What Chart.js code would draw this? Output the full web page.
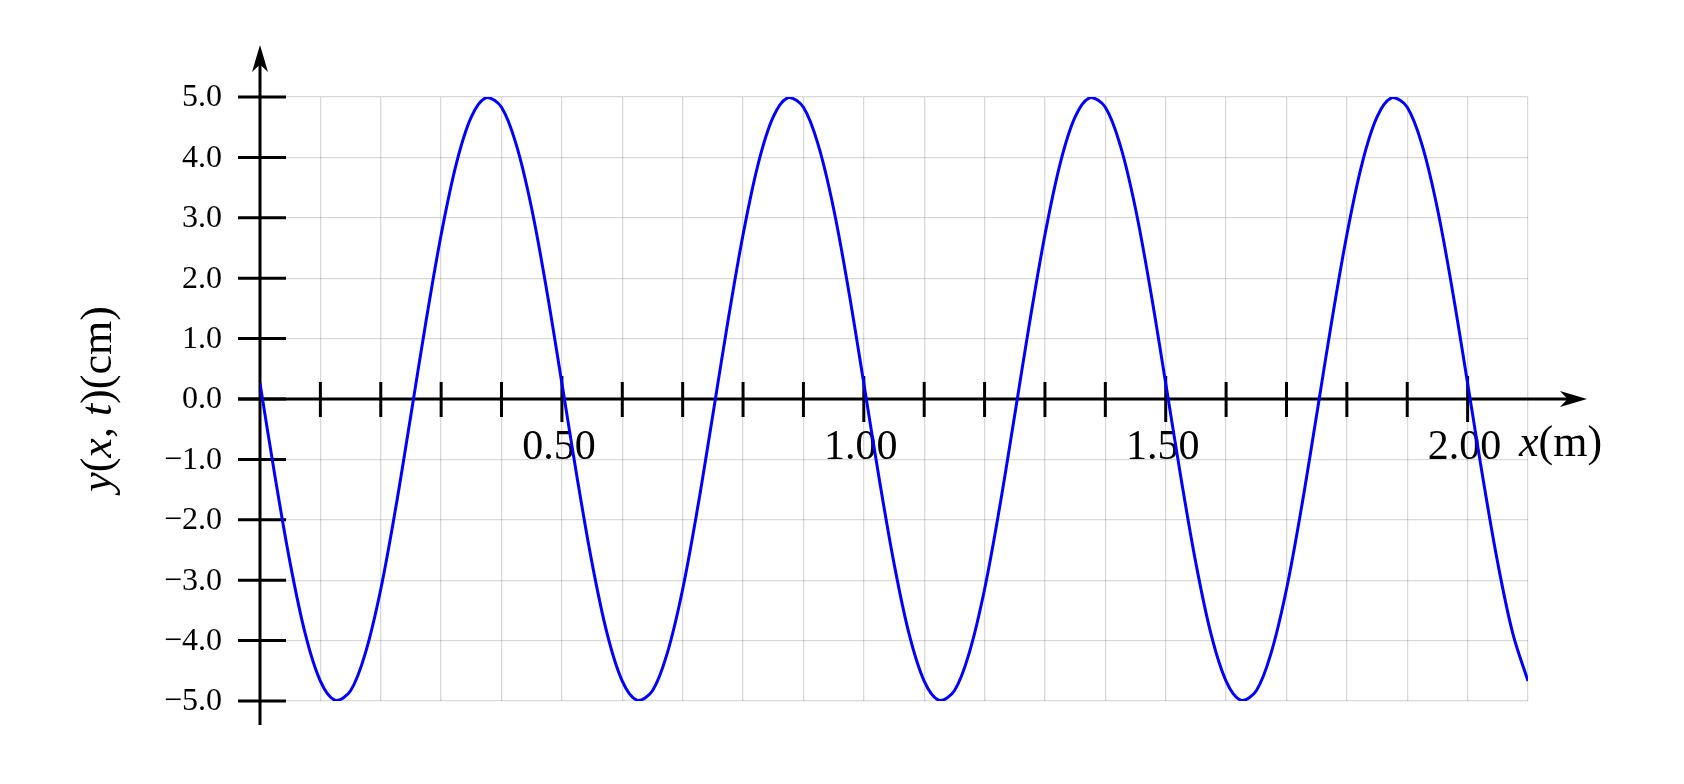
<!DOCTYPE html>
<html>
<head>
<meta charset="utf-8">
<script src="https://cdn.jsdelivr.net/npm/chart.js@4"></script>
<style>
  html, body { margin: 0; padding: 0; background: #fff; }
  #wrap { width: 1684px; height: 784px; }
</style>
</head>
<body>
<div id="wrap"><canvas id="waveChart" width="1684" height="784"></canvas></div>
<script>
// position along the string (m)
const xs = [
  0.000, 0.025, 0.050, 0.075, 0.100, 0.125, 0.150, 0.175, 0.200, 0.225,
  0.250, 0.275, 0.300, 0.325, 0.350, 0.375, 0.400, 0.425, 0.450, 0.475,
  0.500, 0.525, 0.550, 0.575, 0.600, 0.625, 0.650, 0.675, 0.700, 0.725,
  0.750, 0.775, 0.800, 0.825, 0.850, 0.875, 0.900, 0.925, 0.950, 0.975,
  1.000, 1.025, 1.050, 1.075, 1.100, 1.125, 1.150, 1.175, 1.200, 1.225,
  1.250, 1.275, 1.300, 1.325, 1.350, 1.375, 1.400, 1.425, 1.450, 1.475,
  1.500, 1.525, 1.550, 1.575, 1.600, 1.625, 1.650, 1.675, 1.700, 1.725,
  1.750, 1.775, 1.800, 1.825, 1.850, 1.875, 1.900, 1.925, 1.950, 1.975,
  2.000, 2.025, 2.050, 2.075, 2.100
];

// displacement y(x,t) (cm)
const ys = [
  0.26, -1.29, -2.72, -3.89, -4.67, -4.99, -4.83, -4.19, -3.15, -1.79,
  -0.26, 1.29, 2.72, 3.89, 4.67, 4.99, 4.83, 4.19, 3.15, 1.79,
  0.26, -1.29, -2.72, -3.89, -4.67, -4.99, -4.83, -4.19, -3.15, -1.79,
  -0.26, 1.29, 2.72, 3.89, 4.67, 4.99, 4.83, 4.19, 3.15, 1.79,
  0.26, -1.29, -2.72, -3.89, -4.67, -4.99, -4.83, -4.19, -3.15, -1.79,
  -0.26, 1.29, 2.72, 3.89, 4.67, 4.99, 4.83, 4.19, 3.15, 1.79,
  0.26, -1.29, -2.72, -3.89, -4.67, -4.99, -4.83, -4.19, -3.15, -1.79,
  -0.26, 1.29, 2.72, 3.89, 4.67, 4.99, 4.83, 4.19, 3.15, 1.79,
  0.26, -1.29, -2.72, -3.89, -4.67
];

const yTicks = [-5, -4, -3, -2, -1, 0, 1, 2, 3, 4, 5];
const xTicks = [0.1, 0.2, 0.3, 0.4, 0.5, 0.6, 0.7, 0.8, 0.9, 1.0,
                1.1, 1.2, 1.3, 1.4, 1.5, 1.6, 1.7, 1.8, 1.9, 2.0];
const xLabelTicks = [0.5, 1.0, 1.5, 2.0];

const SERIF = '"Liberation Serif", "DejaVu Serif", serif';

function arrowHead(ctx, tipX, tipY, dirX, dirY, len, half){
  // stealth style arrow, pointing along (dirX, dirY)
  const px = -dirY, py = dirX;
  const bx = tipX - dirX * len, by = tipY - dirY * len;
  const nx = tipX - dirX * len * 0.72, ny = tipY - dirY * len * 0.72;
  ctx.beginPath();
  ctx.moveTo(tipX, tipY);
  ctx.lineTo(bx + px * half, by + py * half);
  ctx.lineTo(nx, ny);
  ctx.lineTo(bx - px * half, by - py * half);
  ctx.closePath();
  ctx.fill();
}

// draws text made of [str, italic] pieces starting at x
function drawPieces(ctx, pieces, x, y, size){
  let cx = x;
  for (const [s, it] of pieces){
    ctx.font = (it ? "italic " : "") + size + "px " + SERIF;
    ctx.fillText(s, cx, y);
    cx += ctx.measureText(s).width;
  }
}
function piecesWidth(ctx, pieces, size){
  let w = 0;
  for (const [s, it] of pieces){
    ctx.font = (it ? "italic " : "") + size + "px " + SERIF;
    w += ctx.measureText(s).width;
  }
  return w;
}

const axesPlugin = {
  id: "physAxes",
  beforeDatasetsDraw(chart){
    const ctx = chart.ctx;
    const xs_ = chart.scales.x, ys_ = chart.scales.y;
    const x0 = xs_.getPixelForValue(0);
    const y0 = ys_.getPixelForValue(0);
    const yTop = ys_.getPixelForValue(5);
    const yBot = ys_.getPixelForValue(-5);

    ctx.save();
    ctx.strokeStyle = "#000";
    ctx.fillStyle = "#000";
    ctx.lineWidth = 3;
    ctx.lineCap = "butt";

    // y axis
    ctx.beginPath();
    ctx.moveTo(x0, yBot + 24);
    ctx.lineTo(x0, yTop - 45);
    ctx.stroke();
    arrowHead(ctx, x0, yTop - 52, 0, -1, 27, 8);

    // x axis
    ctx.beginPath();
    ctx.moveTo(x0 - 22, y0);
    ctx.lineTo(xs_.getPixelForValue(2.1) + 50, y0);
    ctx.stroke();
    arrowHead(ctx, xs_.getPixelForValue(2.1) + 59, y0, 1, 0, 27, 8);

    // y ticks + labels
    ctx.font = "32px " + SERIF;
    ctx.textAlign = "right";
    ctx.textBaseline = "middle";
    for (const v of yTicks){
      const py = ys_.getPixelForValue(v);
      ctx.beginPath();
      ctx.moveTo(x0 - 22, py);
      ctx.lineTo(x0 + 26, py);
      ctx.stroke();
      const txt = v.toFixed(1).replace("-", "\u2212");
      ctx.fillText(txt, x0 - 38, py + 1);
    }

    // x ticks
    for (const v of xTicks){
      const px = xs_.getPixelForValue(v);
      const major = xLabelTicks.some(m => Math.abs(m - v) < 1e-9);
      ctx.beginPath();
      ctx.moveTo(px, y0 - (major ? 23 : 17));
      ctx.lineTo(px, y0 + (major ? 23 : 18));
      ctx.stroke();
    }

    // x labels
    ctx.font = "42px " + SERIF;
    ctx.textAlign = "center";
    ctx.textBaseline = "alphabetic";
    for (const v of xLabelTicks){
      const px = xs_.getPixelForValue(v);
      ctx.fillText(v.toFixed(2), px - 3, y0 + 60);
    }

    // x axis title
    ctx.textAlign = "left";
    drawPieces(ctx, [["x", true], ["(m)", false]], xs_.getPixelForValue(2.1) - 9, y0 + 57, 44);

    // y axis title (rotated)
    const ttl = [["y", true], ["(", false], ["x", true], [", ", false], ["t", true], [")(cm)", false]];
    const w = piecesWidth(ctx, ttl, 44);
    ctx.translate(111, (yTop + yBot) / 2);
    ctx.rotate(-Math.PI / 2);
    ctx.textBaseline = "alphabetic";
    drawPieces(ctx, ttl, -w / 2, 0, 44);

    ctx.restore();
  }
};

const points = xs.map((x, i) => ({ x, y: ys[i] }));

new Chart(document.getElementById("waveChart"), {
  type: "line",
  data: {
    datasets: [{
      data: points,
      borderColor: "#0000ff",
      borderWidth: 3,
      pointRadius: 0,
      tension: 0.35,
      fill: false
    }]
  },
  options: {
    responsive: false,
    devicePixelRatio: 1,
    animation: false,
    layout: { padding: { left: 260, right: 156, top: 97, bottom: 83 } },
    plugins: { legend: { display: false }, tooltip: { enabled: false } },
    scales: {
      x: {
        type: "linear", min: 0, max: 2.1,
        ticks: { display: false, stepSize: 0.1 },
        grid: { color: "rgba(0,0,0,0.15)", lineWidth: 1.3, drawTicks: false },
        border: { display: false }
      },
      y: {
        min: -5, max: 5,
        ticks: { display: false, stepSize: 1 },
        grid: { color: "rgba(0,0,0,0.15)", lineWidth: 1.3, drawTicks: false },
        border: { display: false }
      }
    }
  },
  plugins: [axesPlugin]
});
</script>
</body>
</html>
